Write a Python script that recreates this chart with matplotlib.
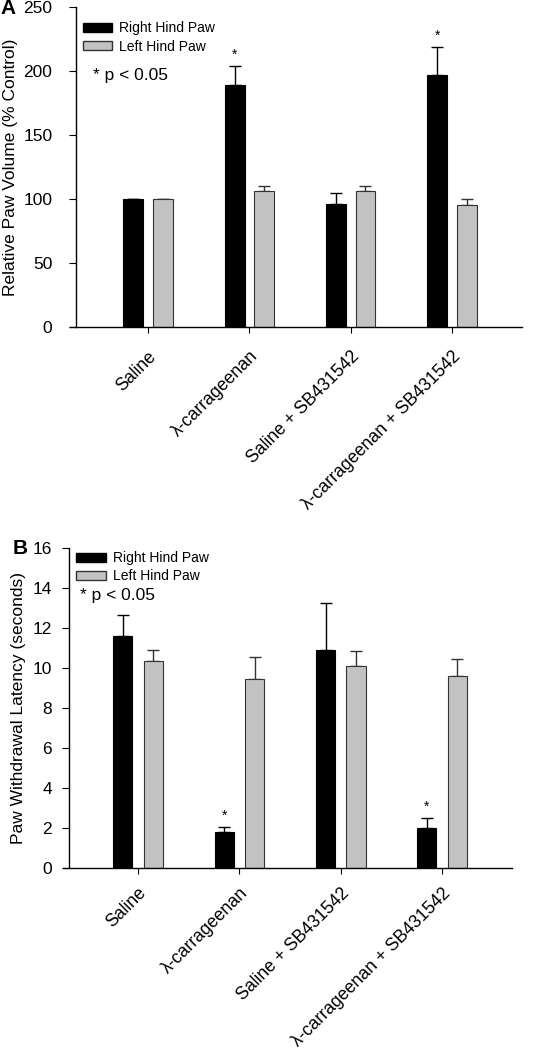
import numpy as np
import matplotlib.pyplot as plt
from matplotlib.patches import Patch

plt.rcParams['font.family'] = ['Liberation Sans', 'DejaVu Sans']

groups = ['Saline', 'λ-carrageenan', 'Saline + SB431542', 'λ-carrageenan + SB431542']

# Panel A: relative paw volume (% control)
vol_right = [100, 189, 96, 197]
vol_right_err = [0, 15, 9, 22]
vol_left = [100, 106, 106, 95]
vol_left_err = [0, 4, 4, 5]
vol_sig = [False, True, False, True]

# Panel B: paw withdrawal latency (s)
lat_right = [11.6, 1.8, 10.9, 2.0]
lat_right_err = [1.05, 0.25, 2.35, 0.5]
lat_left = [10.35, 9.45, 10.1, 9.6]
lat_left_err = [0.55, 1.1, 0.75, 0.85]
lat_sig = [False, True, False, True]

GRAY = '#c2c2c2'


def draw_panel(ax, right, right_err, left, left_err, sig, ylim, yticks, ylabel,
               xlim, offs, width, ytick_pad, ylabel_pad, xtick_pad, legend_xy, ptext_xy):
    x = np.arange(len(groups))
    ax.bar(x - offs, right, width, color='black', edgecolor='black', linewidth=0.8, zorder=2)
    ax.bar(x + offs, left, width, color=GRAY, edgecolor='#333333', linewidth=0.8, zorder=2)
    zeros = np.zeros(len(groups))
    ax.errorbar(x - offs, right, yerr=[zeros, right_err], fmt='none', ecolor='black',
                elinewidth=1, capsize=4, capthick=1, zorder=1)
    ax.errorbar(x + offs, left, yerr=[zeros, left_err], fmt='none', ecolor='#333333',
                elinewidth=1, capsize=4, capthick=1, zorder=1)
    for i, s in enumerate(sig):
        if s:
            ax.annotate('*', (x[i] - offs, right[i] + right_err[i]), xytext=(0, 3),
                        textcoords='offset points', ha='center', va='bottom', fontsize=10)

    ax.set_ylim(*ylim)
    ax.set_yticks(yticks)
    ax.set_xlim(*xlim)
    ax.set_xticks(x)
    ax.set_xticklabels(groups, rotation=45, ha='right', va='top', rotation_mode='anchor',
                       fontsize=12.7)
    ax.tick_params(axis='x', length=4, pad=xtick_pad)
    ax.tick_params(axis='y', length=5, labelsize=12.5, pad=ytick_pad)
    ax.spines['top'].set_visible(False)
    ax.spines['right'].set_visible(False)
    ax.spines['left'].set_position(('axes', 0.013))
    for sp in ('left', 'bottom'):
        ax.spines[sp].set_linewidth(1)
    ax.set_ylabel(ylabel, fontsize=12.5, labelpad=ylabel_pad)

    handles = [Patch(facecolor='black', edgecolor='black', label='Right Hind Paw'),
               Patch(facecolor=GRAY, edgecolor='#333333', label='Left Hind Paw')]
    ax.legend(handles=handles, loc='upper left', bbox_to_anchor=legend_xy, frameon=False,
              fontsize=10, handlelength=2.1, handleheight=0.65, labelspacing=0.3,
              borderaxespad=0, borderpad=0, handletextpad=0.5)
    ax.text(ptext_xy[0], ptext_xy[1], '* p < 0.05', transform=ax.transAxes, fontsize=12.5,
            ha='left', va='top')


fig = plt.figure(figsize=(5.39, 10.5), dpi=100)
ax1 = fig.add_axes([70 / 539, 1 - 327 / 1050, (522 - 70) / 539, 320 / 1050])
ax2 = fig.add_axes([63 / 539, 1 - 868 / 1050, (512 - 63) / 539, 320 / 1050])

draw_panel(ax1, vol_right, vol_right_err, vol_left, vol_left_err, vol_sig,
           (0, 250), [0, 50, 100, 150, 200, 250], 'Relative Paw Volume (% Control)',
           (-0.77, 3.69), 0.145, 0.195, 12, 4, 11, (0.029, 0.955), (0.051, 0.81))
draw_panel(ax2, lat_right, lat_right_err, lat_left, lat_left_err, lat_sig,
           (0, 16), [0, 2, 4, 6, 8, 10, 12, 14, 16], 'Paw Withdrawal Latency (seconds)',
           (-0.74, 3.69), 0.15, 0.19, 7, 5, 8, (0.03, 0.99), (0.038, 0.875))

fig.text(0.0, 1 - 9 / 1050, 'A', fontsize=15, fontweight='bold', ha='left', va='center')
fig.text(13 / 539, 1 - 549 / 1050, 'B', fontsize=15, fontweight='bold', ha='left', va='center')

fig.savefig('out.png', dpi=100)
